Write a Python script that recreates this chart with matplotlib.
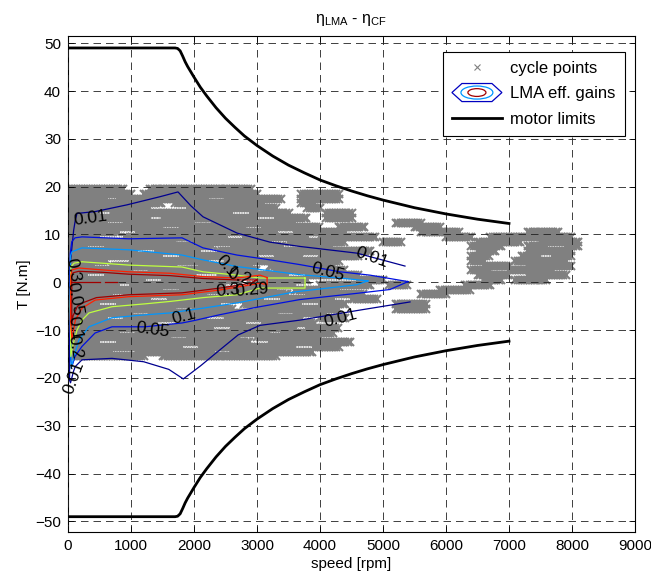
import numpy as np
import matplotlib.pyplot as plt
from matplotlib.legend_handler import HandlerBase
from matplotlib.patches import Ellipse, Polygon
from matplotlib.lines import Line2D

plt.rcParams['font.family'] = ['Liberation Sans', 'DejaVu Sans']
plt.rcParams['font.size'] = 11

# motor torque envelope (upper branch, lower one is mirrored)
lim_speed = [0, 1700, 1740, 1780, 1820, 1860, 1900, 1950, 2000, 2100, 2200, 2350, 2500,
             2650, 2800, 3000, 3250, 3500, 3750, 4000, 4250, 4500, 4750, 5000,
             5500, 6000, 6500, 7000]
lim_torque = [49, 49, 48.9, 48.4, 47.3, 46.1, 45.1, 44.0, 42.9, 40.8, 39.0, 36.5, 34.3,
              32.4, 30.6, 28.6, 26.4, 24.5, 22.9, 21.4, 20.2, 19.1, 18.1, 17.2,
              15.6, 14.3, 13.2, 12.3]

# cycle points, read as horizontal streaks: torque row -> speed spans
cyc_torque = [19.5, 18.5, 17.5, 16.5, 15.5, 14.5, 13.5, 12.5, 11.5, 10.5,
              9.5, 8.5, 7.5, 6.5, 5.5, 4.5, 3.5, 2.5, 1.5, 0.5,
              -0.5, -1.5, -2.5, -3.5, -4.5, -5.5, -6.5, -7.5, -8.5, -9.5,
              -10.5, -11.5, -12.5, -13.5, -14.5, -15.5]
cyc_spans = [
    [(0, 900), (1300, 2900)],
    [(0, 1000), (1200, 3000), (3700, 4300)],
    [(0, 600), (800, 2200), (2500, 3400), (3700, 4300)],
    [(0, 1500), (1700, 3100), (3700, 3900)],
    [(0, 1300), (1900, 3300), (3800, 4000)],
    [(0, 500), (700, 2600), (2900, 3500), (4100, 4500)],
    [(0, 1300), (1500, 3000), (3300, 3800), (4100, 4500)],
    [(0, 600), (900, 2000), (2300, 3600), (5200, 5600)],
    [(0, 1500), (1800, 2800), (3100, 4000), (4300, 4700), (5500, 5900)],
    [(0, 800), (1100, 3300), (3600, 4400), (5600, 6200), (7300, 7800)],
    [(0, 500), (900, 2500), (2800, 3800), (4000, 4900), (6000, 6400), (6700, 8000)],
    [(0, 1700), (2000, 3200), (3500, 4400), (5000, 5300), (6500, 7200), (7500, 8100)],
    [(0, 300), (600, 2300), (2600, 3400), (3700, 4200), (6400, 6900), (7300, 7600), (7900, 8100)],
    [(0, 1100), (1400, 2100), (2400, 4800), (6500, 6800), (7300, 8000)],
    [(0, 1500), (1800, 3000), (3300, 3700), (4000, 4600), (6400, 6700), (7200, 7500), (7700, 8000)],
    [(0, 600), (1000, 2200), (2500, 4300), (6400, 6600), (7100, 7900)],
    [(0, 400), (700, 1700), (2100, 2900), (3200, 4200), (6600, 7000), (7300, 8000)],
    [(0, 1000), (1300, 3000), (3300, 4400), (6400, 6700), (7000, 7700)],
    [(0, 300), (600, 2000), (2400, 3500), (3800, 4600), (6500, 7000), (7300, 7900)],
    [(0, 1200), (1500, 2700), (3000, 3800), (4600, 5000), (6600, 6900), (7100, 7600)],
    [(0, 800), (1000, 2500), (2900, 3600), (4000, 4800), (5100, 5400), (6300, 6700)],
    [(0, 1500), (1800, 3300), (3600, 4300), (5900, 6400)],
    [(0, 700), (900, 2200), (2600, 3500), (3800, 4700), (5600, 6000)],
    [(0, 1300), (1600, 3100), (3400, 4200), (4500, 4900)],
    [(0, 500), (800, 2400), (2800, 3700), (4000, 4400), (5200, 5700)],
    [(0, 1700), (2000, 2600), (3000, 4300), (5200, 5700)],
    [(0, 1000), (1300, 3300), (3600, 4100)],
    [(0, 600), (900, 2200), (2500, 3700), (4000, 4400)],
    [(0, 1400), (1800, 2800), (3100, 3900)],
    [(0, 2300), (2600, 3600), (3800, 4300)],
    [(0, 800), (1100, 3200), (3400, 4200)],
    [(0, 1600), (1900, 2700), (3000, 4000)],
    [(0, 500), (800, 2900), (3200, 4500)],
    [(0, 1800), (2100, 3600), (3900, 4300)],
    [(0, 700), (1100, 2300), (2600, 3900)],
    [(0, 1200), (1500, 3300)],
]

# efficiency gain contours (speed rpm, torque N.m)
c001_speed = [5349, 4587, 3683, 3206, 2683, 2143, 1950, 1746, 1460, 937, 434, 143, 116, 90, 63,
              30, 25, 25, 40, 90, 116, 222, 698, 1200, 1600, 1830, 2100, 2413, 2700, 3048,
              3683, 4635, 5429]
c001_torque = [3.4, 6.1, 7.5, 8.4, 10.3, 13.7, 16.0, 18.9, 17.9, 16.2, 14.8, 14.4, 13.0, 10.9, 7.4,
               3.0, -10.0, -20.5, -21.0, -18.5, -17.6, -16.2, -15.9, -16.6, -18.2, -20.2, -17.5, -14.1, -11.0, -9.0,
               -7.9, -5.8, -4.1]
c005_speed = [5397, 4794, 4317, 3683, 3206, 2683, 2143, 1810, 968, 222, 111, 60, 35,
              30, 40, 63, 111, 222, 429, 698, 1222, 1810, 2000, 2400, 3000, 3683, 4587, 5111, 5397]
c005_torque = [0.15, 1.5, 2.2, 3.7, 4.7, 5.7, 7.2, 9.3, 9.1, 9.5, 9.3, 8.5, 6.0,
               -5.0, -16.0, -17.6, -15.5, -13.4, -10.6, -9.3, -9.3, -8.5, -8.0, -6.8, -5.2, -3.6, -2.3, -1.5, 0.15]
c01_speed = [4760, 4317, 3683, 2683, 2143, 1810, 968, 222, 63, 40, 35, 50, 95, 175, 333, 698,
             1222, 1619, 2143, 2683, 3600, 4587, 4760]
c01_torque = [0.3, 0.9, 1.6, 3.3, 4.7, 5.7, 6.8, 7.2, 6.4, 5.5, -5.0, -18.0, -15.5, -12.0, -9.3, -7.4,
              -6.8, -6.4, -5.4, -4.3, -2.0, -0.5, 0.3]
c02_speed = [3762, 3048, 2683, 2143, 1810, 968, 222, 95, 45, 35, 45, 80, 143, 222, 333, 698,
             1222, 1619, 2143, 2683, 3048, 3762, 3762]
c02_torque = [0.9, 0.9, 1.5, 2.2, 3.2, 3.6, 4.3, 4.0, 3.2, -5.0, -15.5, -13.0, -10.0, -7.9, -6.4, -5.1,
              -4.5, -4.0, -3.2, -2.6, -1.2, -1.2, 0.9]
c029_speed = [3160, 3048, 2683, 2143, 1619, 963, 540, 169, 63, 45, 40, 63, 116, 222, 434, 963,
              1810, 2413, 3048, 3160, 3160]
c029_torque = [1.0, 1.5, 0.9, 1.2, 1.9, 2.2, 2.6, 3.0, 2.6, 1.5, -8.0, -12.0, -7.9, -5.4, -3.7, -3.0,
               -2.6, -1.6, -0.2, -0.5, 1.0]
c03_speed = [3000, 2683, 2143, 1619, 963, 540, 169, 80, 60, 60, 80, 150, 250, 450, 963, 1810,
             2413, 2900, 3000]
c03_torque = [0.5, 0.5, 0.8, 1.4, 1.7, 2.1, 2.3, 2.0, 1.0, -9.0, -7.0, -5.0, -4.2, -3.2, -2.6, -2.2,
              -1.2, -0.2, 0.5]
c03b_speed = [60, 500]
c03b_torque = [0.0, 0.0]
c03c_speed = [590, 780]
c03c_torque = [0.0, 0.0]

# contour labels
lab_text = ['0.01', '0.01', '0.05', '0.01', '0.05', '0.1', '0.1', '0.2', '0.3', '0.29',
            '0.01', '0.05', '0.1', '0.2', '0.3']
lab_speed = [350, 4825, 4127, 4333, 1349, 1841, 2524, 2714, 2540, 2921,
             95, 110, 110, 110, 80]
lab_torque = [13.4, 5.1, 2.2, -7.5, -10.0, -7.2, 3.4, 1.2, -1.8, -1.6,
              -20.0, -3.5, -9.5, -13.5, 2.5]
lab_rot = [8, -20, -15, 15, -8, 15, -50, -20, 5, 5,
           70, -80, -80, -80, -80]


class GainsProxy:
    pass


class HandlerGains(HandlerBase):
    def create_artists(self, legend, orig_handle, xdescent, ydescent,
                       width, height, fontsize, trans):
        cx = width / 2 - xdescent
        cy = height / 2 - ydescent
        hx = [-0.5, -0.3, 0.3, 0.5, 0.3, -0.3]
        hy = [0.0, 0.5, 0.5, 0.0, -0.5, -0.5]
        outer = Polygon([(cx + 36 * a, cy + 13 * b) for a, b in zip(hx, hy)],
                        closed=True, fill=False, ec='#0000C0', lw=0.9, transform=trans)
        mid = Ellipse((cx, cy), 23, 9.4, fill=False, ec='#0096FF', lw=0.9, transform=trans)
        inner = Ellipse((cx, cy), 13, 5.6, fill=False, ec='#A00000', lw=0.9, transform=trans)
        return [outer, mid, inner]


fig = plt.figure(figsize=(6.51, 5.79), dpi=100)
ax = fig.add_axes([68 / 651, 1 - 532 / 579, 567 / 651, 496 / 579])

# cycle points
pts_s = []
pts_t = []
for t, spans in zip(cyc_torque, cyc_spans):
    for s0, s1 in spans:
        s = np.arange(s0, s1 + 1, 40)
        pts_s.append(s)
        pts_t.append(np.full(len(s), t))
ax.plot(np.concatenate(pts_s), np.concatenate(pts_t), ls='none', marker='x',
        ms=6.2, mew=1.5, color='#808080', zorder=1)

# contours
ax.plot(c001_speed, c001_torque, color='#00008F', lw=0.9, zorder=3)
ax.plot(c005_speed, c005_torque, color='#0010E0', lw=0.9, zorder=3)
ax.plot(c01_speed, c01_torque, color='#0096FF', lw=0.9, zorder=3)
ax.plot(c02_speed, c02_torque, color='#BFFF40', lw=0.9, zorder=3)
ax.plot(c029_speed, c029_torque, color='#FF2000', lw=0.9, zorder=3)
ax.plot(c03_speed, c03_torque, color='#A00000', lw=0.9, zorder=3)
ax.plot(c03b_speed, c03b_torque, color='#A00000', lw=0.9, zorder=3)
ax.plot(c03c_speed, c03c_torque, color='#A00000', lw=0.9, zorder=3)

for txt, s, t, r in zip(lab_text, lab_speed, lab_torque, lab_rot):
    ax.text(s, t, txt, rotation=r, ha='center', va='center', fontsize=12.5,
            rotation_mode='anchor', zorder=5)

# motor limits
ax.plot(lim_speed, lim_torque, color='k', lw=2.0, zorder=4)
ax.plot(lim_speed, -np.array(lim_torque), color='k', lw=2.0, zorder=4)

ax.set_xlim(0, 9000)
ax.set_ylim(-52.2, 51.5)
ax.set_xticks(np.arange(0, 9001, 1000))
ax.set_yticks(np.arange(-50, 51, 10))
ax.set_axisbelow(False)
ax.grid(True, color='#202020', lw=0.6, ls=(0, (9, 6)))
ax.tick_params(direction='in', top=True, right=True, length=4, width=0.6, pad=5)
for sp in ax.spines.values():
    sp.set_linewidth(0.8)

ax.set_xlabel('speed [rpm]', labelpad=3)
ax.set_ylabel('T [N.m]', labelpad=3)
ax.set_title(r'$\mathregular{\eta_{LMA}}$ - $\mathregular{\eta_{CF}}$', fontsize=11.5, pad=9)

pts_handle = Line2D([], [], ls='none', marker='x', color='#808080', ms=4, mew=0.8)
lim_handle = Line2D([], [], color='k', lw=2.0)
leg = ax.legend([pts_handle, GainsProxy(), lim_handle],
                ['cycle points', 'LMA eff. gains', 'motor limits'],
                handler_map={GainsProxy: HandlerGains()},
                loc='upper right', bbox_to_anchor=(0.982, 0.968), borderaxespad=0,
                fancybox=False, edgecolor='k', framealpha=1, handlelength=3.0,
                handletextpad=0.5, labelspacing=0.62, borderpad=0.55, fontsize=12)
leg.get_frame().set_linewidth(0.8)
leg.set_zorder(10)

fig.savefig('out.png', dpi=100)
